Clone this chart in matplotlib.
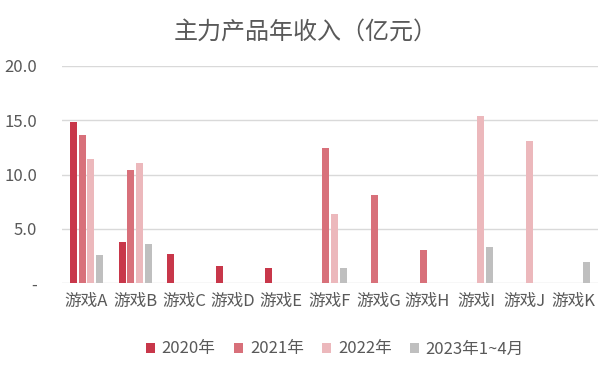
import numpy as np
import matplotlib.pyplot as plt

plt.rcParams['font.family'] = ['Noto Sans CJK SC', 'DejaVu Sans']

games = ["游戏A", "游戏B", "游戏C", "游戏D", "游戏E", "游戏F",
         "游戏G", "游戏H", "游戏I", "游戏J", "游戏K"]
series_names = ["2020年", "2021年", "2022年", "2023年1~4月"]
rev_2020 = [14.8, 3.8, 2.7, 1.6, 1.4, 0, 0, 0, 0, 0, 0]
rev_2021 = [13.6, 10.4, 0, 0, 0, 12.4, 8.1, 3.0, 0, 0, 0]
rev_2022 = [11.4, 11.1, 0, 0, 0, 6.4, 0, 0, 15.4, 13.1, 0]
rev_2023 = [2.6, 3.6, 0, 0, 0, 1.4, 0, 0, 3.3, 0, 1.95]
colors = ["#C8374A", "#D8707A", "#ECB8BC", "#BFBFBF"]
yticks = [0, 5, 10, 15, 20]
ytick_labels = ["-", "5.0", "10.0", "15.0", "20.0"]

txt = "#595959"

fig = plt.figure(figsize=(6.11, 3.69), dpi=100)
ax = fig.add_axes([62 / 611, 1 - 283 / 369, 536 / 611, 217 / 369])

x = np.arange(len(games))
step = 0.178
width = 0.144
for i, vals in enumerate([rev_2020, rev_2021, rev_2022, rev_2023]):
    ax.bar(x + (i - 1.5) * step, vals, width, color=colors[i], label=series_names[i], zorder=3)

ax.set_xlim(-0.5, len(games) - 0.5)
ax.set_ylim(0, 20)
ax.set_yticks(yticks)
ax.set_yticklabels(ytick_labels)
ax.set_xticks(x)
ax.set_xticklabels(games)
ax.grid(axis='y', color='#D9D9D9', linewidth=1, zorder=0)
ax.set_axisbelow(True)
for s in ["top", "right", "left", "bottom"]:
    ax.spines[s].set_visible(False)
ax.tick_params(axis='both', length=0, labelsize=12, colors=txt)
ax.tick_params(axis='x', pad=7)
ax.tick_params(axis='y', pad=18)
for lbl in ax.get_yticklabels():
    lbl.set_horizontalalignment('right')

fig.text(0.5, 1 - 32 / 369, "主力产品年收入（亿元）", ha='center', va='center',
         fontsize=17.3, color=txt)

fig.legend(loc='center', bbox_to_anchor=(335 / 611, 1 - 349 / 369), ncol=4, frameon=False,
           fontsize=12, labelcolor=txt, handlelength=0.55, handleheight=0.55,
           handletextpad=0.4, columnspacing=1.1)

fig.savefig("out.png", dpi=100)
